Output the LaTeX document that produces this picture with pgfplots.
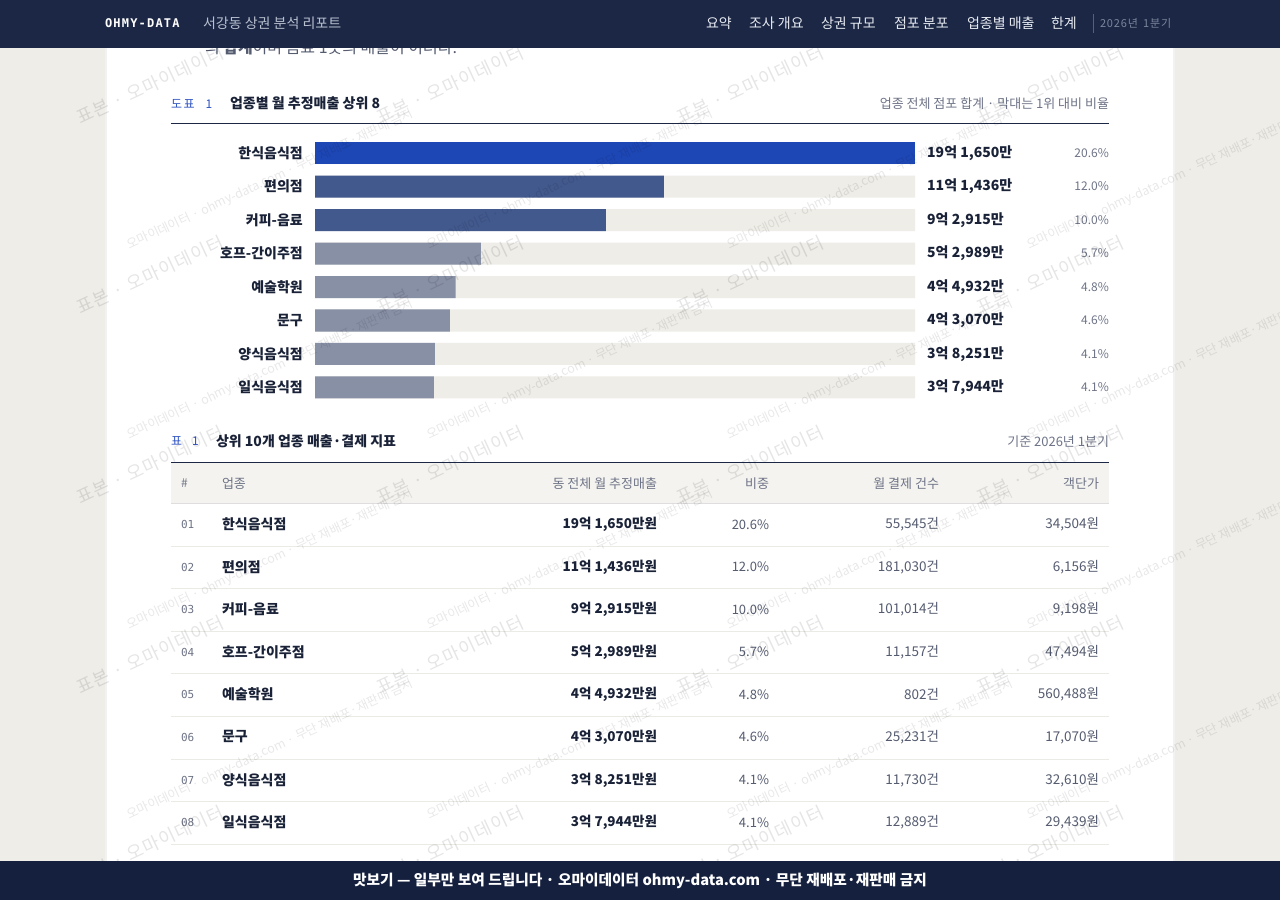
\documentclass[border=0pt]{standalone}
\usepackage{fontspec}
\usepackage{pgfplots}
\usepackage{pgfplotstable}
\pgfplotsset{compat=1.18}
\setmainfont{Noto Sans CJK KR}
\newfontfamily\monof{DejaVu Sans Mono}
\newcommand{\fs}[1]{\fontsize{#1bp}{#1bp}\selectfont}

\definecolor{pagebg}{HTML}{EEEDE8}
\definecolor{navbg}{HTML}{1B2745}
\definecolor{footbg}{HTML}{15203E}
\definecolor{navtext}{HTML}{B9C0D0}
\definecolor{navitem}{HTML}{E8EBF2}
\definecolor{navdim}{HTML}{7C869C}
\definecolor{ink}{HTML}{1A2238}
\definecolor{body}{HTML}{555C70}
\definecolor{muted}{HTML}{6E7487}
\definecolor{accent}{HTML}{2D52C2}
\definecolor{barblue}{HTML}{1E47B6}
\definecolor{barmid}{HTML}{42598E}
\definecolor{bargray}{HTML}{8890A6}
\definecolor{track}{HTML}{EEEDE8}
\definecolor{headbg}{HTML}{F4F3EF}
\definecolor{rowline}{HTML}{EBEAE5}

% 월 추정매출, 만원 단위 (max = 1위 값, 막대 배경용)
\pgfplotstableread[col sep=semicolon]{
idx;name;val;max;label;pct
0;한식음식점;191650;191650;19억 1,650만;20.6
1;편의점;111436;191650;11억 1,436만;12.0
2;커피-음료;92915;191650;9억 2,915만;10.0
3;호프-간이주점;52989;191650;5억 2,989만;5.7
4;예술학원;44932;191650;4억 4,932만;4.8
5;문구;43070;191650;4억 3,070만;4.6
6;양식음식점;38251;191650;3억 8,251만;4.1
7;일식음식점;37944;191650;3억 7,944만;4.1
}\bartable

% 표 한 줄: y, 순위, 업종, 매출, 비중, 건수, 객단가
\newcommand{\trow}[7]{%
  \node[anchor=west, font=\monof\fs{11}, text=muted] at (181,#1) {#2};
  \node[anchor=west, font=\fs{14}\bfseries, text=ink] at (222,#1) {#3};
  \node[anchor=east, font=\fs{13.5}\bfseries, text=ink] at (657,#1) {#4};
  \node[anchor=east, font=\fs{13}, text=body] at (769,#1) {#5};
  \node[anchor=east, font=\fs{13.5}, text=body] at (939,#1) {#6};
  \node[anchor=east, font=\fs{13.5}, text=body] at (1099,#1) {#7};
}

\begin{document}
\begin{tikzpicture}
\begin{scope}[x=1bp, y=-1bp, every node/.style={inner sep=0pt, outer sep=0pt}]
  \fill[pagebg] (0,0) rectangle (1280,900);
  \fill[black!5] (105,0) rectangle (1175,900);
  \fill[white] (107,0) rectangle (1173,900);
  \node[anchor=base west, font=\fs{16}, text=body] at (205,53) {의 \textbf{합계}이며 음료 1곳의 매출이 이러다.};
  % 도표 제목
  \node[anchor=west, font=\fs{12}, text=accent] at (171,103.5) {도\hspace{1.5bp}표\hspace{11bp}1};
  \node[anchor=west, font=\fs{14}\bfseries, text=ink] at (230,103.5) {업종별 월 추정매출 상위 8};
  \node[anchor=east, font=\fs{13}, text=muted] at (1109,103.5) {업종 전체 점포 합계 · 막대는 1위 대비 비율};
  \draw[navbg, line width=1.2bp] (171,123.5) -- (1109,123.5);
\end{scope}

\begin{axis}[
  at={(315bp,-136.25bp)}, anchor=north west,
  scale only axis, width=600bp, height=268bp,
  xbar, bar width=22bp,
  xmin=0, xmax=191650, ymin=-0.5, ymax=7.5,
  y dir=reverse, enlargelimits=false,
  axis line style={draw=none}, major tick length=0pt,
  xtick=\empty, ytick={0,...,7},
  yticklabels from table={\bartable}{name},
  yticklabel style={anchor=east, inner sep=0pt, xshift=-12bp,
    font=\fs{14}\bfseries, text=ink},
  clip=false,
]
  \addplot[fill=track, draw=none, bar shift=0pt] table[x=max, y=idx]{\bartable};
  \addplot[fill=barblue, draw=none, bar shift=0pt, restrict y to domain=-0.5:0.5]
    table[x=val, y=idx]{\bartable};
  \addplot[fill=barmid, draw=none, bar shift=0pt, restrict y to domain=0.5:2.5]
    table[x=val, y=idx]{\bartable};
  \addplot[fill=bargray, draw=none, bar shift=0pt, restrict y to domain=2.5:7.5]
    table[x=val, y=idx]{\bartable};
  % 금액 라벨
  \addplot[draw=none, fill=none, bar shift=0pt, point meta=explicit symbolic,
    nodes near coords,
    nodes near coords style={anchor=west, inner sep=0pt, xshift=12bp,
      font=\fs{14}\bfseries, text=ink}]
    table[x=max, y=idx, meta=label]{\bartable};
  % 비중 라벨
  \addplot[draw=none, fill=none, bar shift=0pt, point meta=explicit,
    /pgf/number format/assume math mode=true,
    nodes near coords={\pgfmathprintnumber[fixed, fixed zerofill, precision=1]{\pgfplotspointmeta}\%},
    nodes near coords style={anchor=east, inner sep=0pt, xshift=194bp,
      font=\fs{12}, text=muted}]
    table[x=max, y=idx, meta=pct]{\bartable};
\end{axis}

\begin{scope}[x=1bp, y=-1bp, every node/.style={inner sep=0pt, outer sep=0pt}]
  % 표
  \node[anchor=west, font=\fs{12}, text=accent] at (171,441.5) {표\hspace{10bp}1};
  \node[anchor=west, font=\fs{14}\bfseries, text=ink] at (216,441.5) {상위 10개 업종 매출·결제 지표};
  \node[anchor=east, font=\fs{13}, text=muted] at (1109,441.5) {기준 2026년 1분기};
  \fill[headbg] (171,463) rectangle (1109,503.5);
  \draw[navbg, line width=1.2bp] (171,462.5) -- (1109,462.5);
  \draw[black!13, line width=1.2bp] (171,503.5) -- (1109,503.5);
  \node[anchor=west, font=\fs{12}, text=muted] at (181,483.5) {\#};
  \node[anchor=west, font=\fs{13}, text=muted] at (222,483.5) {업종};
  \node[anchor=east, font=\fs{13}, text=muted] at (657,483.5) {동 전체 월 추정매출};
  \node[anchor=east, font=\fs{13}, text=muted] at (769,483.5) {비중};
  \node[anchor=east, font=\fs{13}, text=muted] at (939,483.5) {월 결제 건수};
  \node[anchor=east, font=\fs{13}, text=muted] at (1099,483.5) {객단가};
  \foreach \ly in {546,588.5,631,673.5,716,759,801,844}
    \draw[rowline, line width=1bp] (171,\ly) -- (1109,\ly);
  \trow{524.5}{01}{한식음식점}{19억 1,650만원}{20.6\%}{55,545건}{34,504원}
  \trow{567}{02}{편의점}{11억 1,436만원}{12.0\%}{181,030건}{6,156원}
  \trow{609.5}{03}{커피-음료}{9억 2,915만원}{10.0\%}{101,014건}{9,198원}
  \trow{652}{04}{호프-간이주점}{5억 2,989만원}{5.7\%}{11,157건}{47,494원}
  \trow{694.5}{05}{예술학원}{4억 4,932만원}{4.8\%}{802건}{560,488원}
  \trow{737}{06}{문구}{4억 3,070만원}{4.6\%}{25,231건}{17,070원}
  \trow{780}{07}{양식음식점}{3억 8,251만원}{4.1\%}{11,730건}{32,610원}
  \trow{822.5}{08}{일식음식점}{3억 7,944만원}{4.1\%}{12,889건}{29,439원}
  % 워터마크
  \foreach \cx in {150,450,750,1050} {
    \foreach \cy in {85,275,465,655,845} {
      \node[rotate=25, font=\fs{18}\addfontfeatures{LetterSpace=6}, text=black, opacity=0.10] at (\cx,\cy) {표본 · 오마이데이터};
    }
    \foreach \cy in {275,465,655,845} {
      \node[rotate=25, font=\fs{12.5}, text=black, opacity=0.09] at (\cx+120,\cy-95) {오마이데이터 · ohmy-data.com · 무단 재배포·재판매 금지};
    }
  }
  % 상단 메뉴
  \fill[navbg] (0,0) rectangle (1280,47.5);
  \node[anchor=west, font=\monof\fs{12}\bfseries\addfontfeatures{LetterSpace=10}, text=white] at (105,23.5) {OHMY-DATA};
  \node[anchor=west, font=\fs{14}, text=navtext] at (203,23.5) {서강동 상권 분석 리포트};
  \node[anchor=west, font=\fs{14}, text=navitem] at (706,23.5) {요약};
  \node[anchor=west, font=\fs{14}, text=navitem] at (749,23.5) {조사 개요};
  \node[anchor=west, font=\fs{14}, text=navitem] at (821,23.5) {상권 규모};
  \node[anchor=west, font=\fs{14}, text=navitem] at (894,23.5) {점포 분포};
  \node[anchor=west, font=\fs{14}, text=navitem] at (967,23.5) {업종별 매출};
  \node[anchor=west, font=\fs{14}, text=navitem] at (1051,23.5) {한계};
  \draw[navdim!60!navbg, line width=1bp] (1093.5,14) -- (1093.5,33);
  \node[anchor=west, font=\fs{11}\addfontfeatures{LetterSpace=8}, text=navdim] at (1100,23.5) {2026년\hspace{5bp}1분기};
  % 하단 배너
  \fill[footbg] (0,861) rectangle (1280,900);
  \node[font=\fs{14.7}\bfseries, text=white] at (640,880.5) {맛보기 — 일부만 보여 드립니다 · 오마이데이터 ohmy-data.com · 무단 재배포·재판매 금지};
\end{scope}
\pgfresetboundingbox
\path[use as bounding box] (0,0) rectangle (1280bp,-900bp);
\end{tikzpicture}
\end{document}
